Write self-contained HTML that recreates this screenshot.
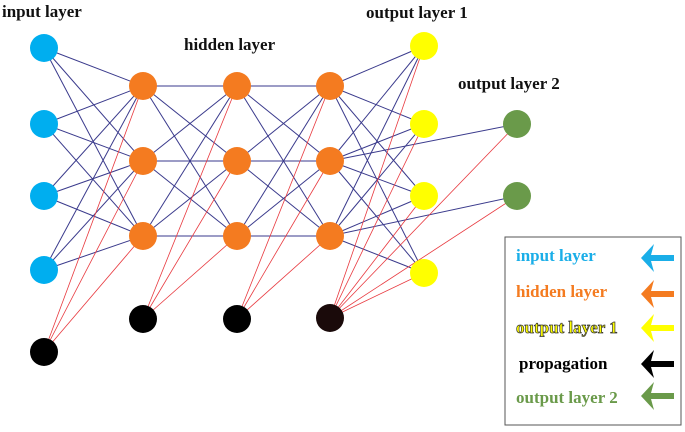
<!DOCTYPE html>
<html><head><style>
body{margin:0;background:#fff}
svg text{font-family:"Liberation Serif",serif;font-weight:bold}
</style></head><body>
<svg width="685" height="427" viewBox="0 0 685 427" xmlns="http://www.w3.org/2000/svg">
<g stroke="#3a3a8c" stroke-width="1">
<line x1="44" y1="48" x2="143" y2="86"/><line x1="44" y1="48" x2="143" y2="161"/><line x1="44" y1="48" x2="143" y2="236"/>
<line x1="44" y1="124" x2="143" y2="86"/><line x1="44" y1="124" x2="143" y2="161"/><line x1="44" y1="124" x2="143" y2="236"/>
<line x1="44" y1="196" x2="143" y2="86"/><line x1="44" y1="196" x2="143" y2="161"/><line x1="44" y1="196" x2="143" y2="236"/>
<line x1="44" y1="270" x2="143" y2="86"/><line x1="44" y1="270" x2="143" y2="161"/><line x1="44" y1="270" x2="143" y2="236"/>
<line x1="143" y1="86" x2="237" y2="86"/><line x1="143" y1="86" x2="237" y2="161"/><line x1="143" y1="86" x2="237" y2="236"/>
<line x1="143" y1="161" x2="237" y2="86"/><line x1="143" y1="161" x2="237" y2="161"/><line x1="143" y1="161" x2="237" y2="236"/>
<line x1="143" y1="236" x2="237" y2="86"/><line x1="143" y1="236" x2="237" y2="161"/><line x1="143" y1="236" x2="237" y2="236"/>
<line x1="237" y1="86" x2="330" y2="86"/><line x1="237" y1="86" x2="330" y2="161"/><line x1="237" y1="86" x2="330" y2="236"/>
<line x1="237" y1="161" x2="330" y2="86"/><line x1="237" y1="161" x2="330" y2="161"/><line x1="237" y1="161" x2="330" y2="236"/>
<line x1="237" y1="236" x2="330" y2="86"/><line x1="237" y1="236" x2="330" y2="161"/><line x1="237" y1="236" x2="330" y2="236"/>
<line x1="330" y1="86" x2="424" y2="46"/><line x1="330" y1="86" x2="424" y2="124"/><line x1="330" y1="86" x2="424" y2="196"/><line x1="330" y1="86" x2="424" y2="273"/>
<line x1="330" y1="161" x2="424" y2="46"/><line x1="330" y1="161" x2="424" y2="124"/><line x1="330" y1="161" x2="424" y2="196"/><line x1="330" y1="161" x2="424" y2="273"/>
<line x1="330" y1="236" x2="424" y2="46"/><line x1="330" y1="236" x2="424" y2="124"/><line x1="330" y1="236" x2="424" y2="196"/><line x1="330" y1="236" x2="424" y2="273"/>
<line x1="330" y1="161" x2="517" y2="124"/><line x1="330" y1="236" x2="517" y2="196"/>
</g>
<g stroke="#e8393f" stroke-width="0.8">
<line x1="44" y1="352" x2="143" y2="86"/><line x1="44" y1="352" x2="143" y2="161"/><line x1="44" y1="352" x2="143" y2="236"/>
<line x1="143" y1="319" x2="237" y2="86"/><line x1="143" y1="319" x2="237" y2="161"/><line x1="143" y1="319" x2="237" y2="236"/>
<line x1="237" y1="319" x2="330" y2="86"/><line x1="237" y1="319" x2="330" y2="161"/><line x1="237" y1="319" x2="330" y2="236"/>
<line x1="330" y1="318" x2="424" y2="46"/><line x1="330" y1="318" x2="424" y2="124"/><line x1="330" y1="318" x2="424" y2="196"/><line x1="330" y1="318" x2="424" y2="273"/>
<line x1="330" y1="318" x2="517" y2="124"/><line x1="330" y1="318" x2="517" y2="196"/>
</g>
<g fill="#00aeef">
<circle cx="44" cy="48" r="14"/><circle cx="44" cy="124" r="14"/><circle cx="44" cy="196" r="14"/><circle cx="44" cy="270" r="14"/>
</g>
<circle cx="44" cy="352" r="14" fill="#000"/>
<g fill="#f47b20">
<circle cx="143" cy="86" r="14"/><circle cx="143" cy="161" r="14"/><circle cx="143" cy="236" r="14"/>
<circle cx="237" cy="86" r="14"/><circle cx="237" cy="161" r="14"/><circle cx="237" cy="236" r="14"/>
<circle cx="330" cy="86" r="14"/><circle cx="330" cy="161" r="14"/><circle cx="330" cy="236" r="14"/>
</g>
<circle cx="143" cy="319" r="14" fill="#000"/><circle cx="237" cy="319" r="14" fill="#000"/><circle cx="330" cy="318" r="14" fill="#1a0a0a"/>
<g fill="#ffff00">
<circle cx="424" cy="46" r="14"/><circle cx="424" cy="124" r="14"/><circle cx="424" cy="196" r="14"/><circle cx="424" cy="273" r="14"/>
</g>
<g fill="#6a9a4a"><circle cx="517" cy="124" r="14"/><circle cx="517" cy="196" r="14"/></g>
<text x="2" y="17" font-size="17" fill="#111">input layer</text>
<text x="184" y="50" font-size="17" fill="#111">hidden layer</text>
<text x="366" y="18" font-size="17" fill="#111">output layer 1</text>
<text x="458" y="89" font-size="17" fill="#111">output layer 2</text>
<rect x="505" y="237" width="176" height="188" fill="none" stroke="#555" stroke-width="1"/>
<text x="516" y="261" font-size="17" fill="#1aaee8">input layer</text>
<text x="516" y="297" font-size="17" fill="#f47b20">hidden layer</text>
<text x="516" y="333" font-size="17" fill="#ffff00" stroke="#333" stroke-width="0.7">output layer 1</text>
<text x="519" y="369" font-size="17" fill="#000">propagation</text>
<text x="516" y="403" font-size="17" fill="#6a9a4a">output layer 2</text>
<polygon fill="#1aaee8" points="641,258 654,244 651,255 674,255 674,261 651,261 654,272"/>
<polygon fill="#f47b20" points="641,294 654,280 651,291 674,291 674,297 651,297 654,308"/>
<polygon fill="#ffff00" points="641,328 654,314 651,325 674,325 674,331 651,331 654,342"/>
<polygon fill="#000" points="641,364 654,350 651,361 674,361 674,367 651,367 654,378"/>
<polygon fill="#6a9a4a" points="641,396 654,382 651,393 674,393 674,399 651,399 654,410"/>
</svg>
</body></html>
